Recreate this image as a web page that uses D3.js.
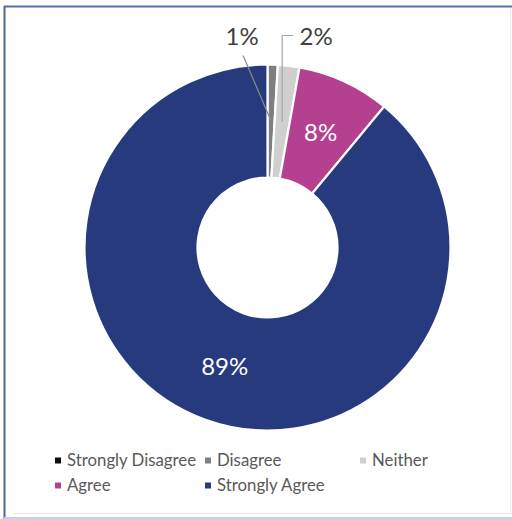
<!DOCTYPE html>
<html>
<head>
<meta charset="utf-8">
<script src="https://cdn.jsdelivr.net/npm/d3@7"></script>
<style>
  html, body { margin: 0; padding: 0; background: #fff; }
  svg { display: block; font-family: Lato, "Open Sans", sans-serif; }
</style>
</head>
<body>
<svg id="chart"></svg>
<script>
// data
var categories = ["Strongly Disagree", "Disagree", "Neither", "Agree", "Strongly Agree"];
var shares = [0, 0.9, 1.9, 8.2, 89.0];
var colors = ["#0d0d0d", "#7f7f7f", "#cfcfcf", "#b5408f", "#263a7d"];

var w = 512, h = 519;
var cx = 267.5, cy = 247.5;
var outerR = 183, innerR = 70;

var svg = d3.select("#chart").attr("width", w).attr("height", h);

// frame
svg.append("line").attr("x1", 4).attr("y1", 6.5).attr("x2", w).attr("y2", 6.5)
  .attr("stroke", "#5571b0").attr("stroke-width", 2);
svg.append("line").attr("x1", 4.5).attr("y1", 6).attr("x2", 4.5).attr("y2", h)
  .attr("stroke", "#4a64a8").attr("stroke-width", 2);
svg.append("line").attr("x1", 14).attr("y1", 513.5).attr("x2", w).attr("y2", 513.5)
  .attr("stroke", "#e6e6e6").attr("stroke-width", 1);
svg.append("line").attr("x1", 4).attr("y1", 518).attr("x2", w).attr("y2", 518)
  .attr("stroke", "#c5cfe6").attr("stroke-width", 2);
svg.append("line").attr("x1", 510.5).attr("y1", 8).attr("x2", 510.5).attr("y2", 513)
  .attr("stroke", "#ececec").attr("stroke-width", 1);

var data = categories.map(function(c, i){ return {name: c, value: shares[i], color: colors[i]}; });

var pie = d3.pie().sort(null).value(function(d){ return d.value; });
var arc = d3.arc().innerRadius(innerR).outerRadius(outerR);
var arcs = pie(data);

var g = svg.append("g").attr("transform", "translate(" + cx + "," + cy + ")");

g.selectAll("path").data(arcs).enter().append("path")
  .attr("d", arc)
  .attr("fill", function(d){ return d.data.color; })
  .attr("stroke", "#fff")
  .attr("stroke-width", 2.2)
  .attr("stroke-linejoin", "miter");

function pct(d){ return Math.round(d.data.value) + "%"; }

// big slices: labels inside
g.selectAll("text.inner").data(arcs.filter(function(d){ return d.data.value >= 5; }))
  .enter().append("text")
  .attr("class", "inner")
  .attr("x", function(d){ return arc.centroid(d)[0]; })
  .attr("y", function(d){ return arc.centroid(d)[1]; })
  .attr("dy", "0.35em")
  .attr("text-anchor", "middle")
  .attr("fill", "#fff")
  .attr("font-size", 24)
  .text(pct);

// small slices: labels above with leader lines
var labelY = -outerR - 20;   // baseline, relative to centre
var small = arcs.filter(function(d){ return d.data.value > 0 && d.data.value < 5; });
var side = { "Disagree": -29, "Neither": 34 };

small.forEach(function(d){
  var c = arc.centroid(d);
  var lx = c[0] + side[d.data.name];
  g.append("text")
    .attr("x", lx).attr("y", labelY)
    .attr("text-anchor", "middle")
    .attr("fill", "#404040")
    .attr("font-size", 24)
    .text(pct(d));
  if (side[d.data.name] < 0) {
    g.append("line")
      .attr("x1", lx + 1).attr("y1", labelY + 11)
      .attr("x2", c[0]).attr("y2", c[1])
      .attr("stroke", "#8c8c8c").attr("stroke-width", 1.2);
  } else {
    var ly = labelY - 9;
    g.append("polyline")
      .attr("points", [[lx - 23, ly], [c[0], ly], [c[0], c[1]]].map(function(p){ return p.join(","); }).join(" "))
      .attr("fill", "none")
      .attr("stroke", "#a6a6a6").attr("stroke-width", 1.2);
  }
});

// legend
var legX = [55, 205, 360];
var legY = [460.5, 485.5];
var leg = svg.append("g");
data.forEach(function(d, i){
  var x = legX[i % 3], y = legY[Math.floor(i / 3)];
  leg.append("rect").attr("x", x).attr("y", y - 3).attr("width", 6).attr("height", 6)
    .attr("fill", d.color);
  leg.append("text").attr("x", x + 12).attr("y", y).attr("dy", "0.35em")
    .attr("fill", "#595959").attr("font-size", 16.8)
    .text(d.name);
});
</script>
</body>
</html>
